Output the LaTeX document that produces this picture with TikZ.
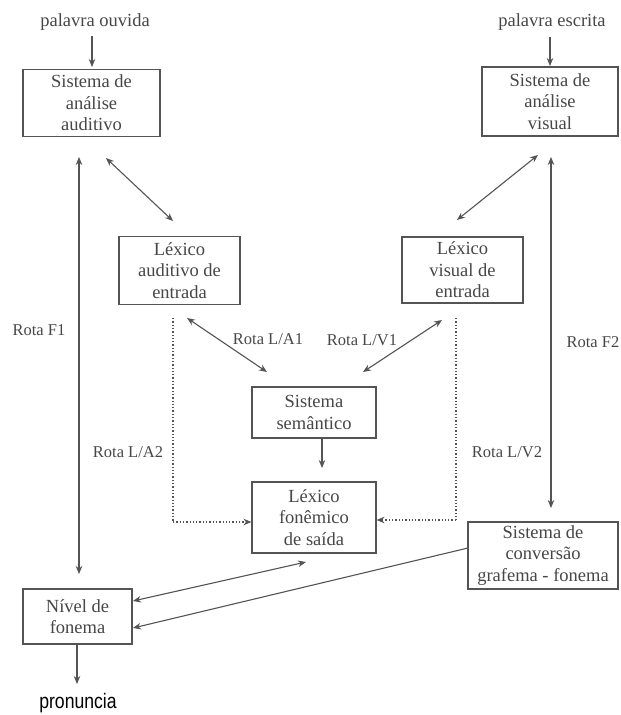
\documentclass[tikz,border=0pt]{standalone}
\usepackage{fontspec}
\setmainfont{Liberation Serif}
\newfontfamily\pronfont{Liberation Sans}
\usetikzlibrary{arrows.meta}
\definecolor{ink}{gray}{0.33}
\definecolor{txt}{gray}{0.28}
\begin{document}
\begin{tikzpicture}[x=1pt,y=-1pt,
  box/.style={draw=ink,line width=1.1pt,inner sep=0pt,align=center,text=txt,
    font=\fontsize{18.5}{21.5}\selectfont},
  lbl/.style={text=txt,inner sep=0pt,font=\fontsize{18.5}{21.5}\selectfont},
  rota/.style={text=txt,inner sep=0pt,font=\fontsize{16.5}{19}\selectfont},
  tip/.style={-{Stealth[length=8pt,width=6.5pt]}},
  dtip/.style={{Stealth[length=8pt,width=6.5pt]}-{Stealth[length=8pt,width=6.5pt]}},
  conn/.style={draw=ink,line width=1.1pt},
  dots/.style={draw=ink,line width=1.3pt,dotted}]
\useasboundingbox (0,0) rectangle (621,715);
\fill[white] (0,0) rectangle (621,715);

% boxes
\node[box,minimum width=137,minimum height=67] (saa) at (91.5,103) {Sistema de\\análise\\auditivo};
\node[box,minimum width=136,minimum height=69] (sav) at (550,101.5) {Sistema de\\análise\\visual};
\node[box,minimum width=121,minimum height=68] (lae) at (179.5,270.5) {Léxico\\auditivo de\\entrada};
\node[box,minimum width=121,minimum height=66] (lve) at (462.5,270) {Léxico\\visual de\\entrada};
\node[box,minimum width=124,minimum height=51] (sem) at (314,412.5) {Sistema\\semântico};
\node[box,minimum width=124,minimum height=71] (lfs) at (314,517.5) {Léxico\\fonêmico\\de saída};
\node[box,minimum width=150,minimum height=67] (scgf) at (543,555.5) {Sistema de\\conversão\\grafema - fonema};
\node[box,minimum width=109,minimum height=55] (nf) at (77.5,616.5) {Nível de\\fonema};

% labels
\node[lbl] (ouv) at (95,22) {palavra ouvida};
\node[lbl] (esc) at (552,22) {palavra escrita};
\node[rota] (f1) at (39,330) {Rota F1};
\node[rota] (f2) at (593,342) {Rota F2};
\node[rota] (la1) at (268,339) {Rota L/A1};
\node[rota] (lv1) at (362,340) {Rota L/V1};
\node[rota] (la2) at (128,452) {Rota L/A2};
\node[rota] (lv2) at (507,452) {Rota L/V2};
\node[inner sep=0pt,text=black,font=\pronfont\fontsize{21}{24}\selectfont] (pron) at (78,703) {\scalebox{0.84}[1]{pronuncia}};

% coordinates for free ends
\coordinate (ouvA) at (92,36);   \coordinate (ouvB) at (92,67);
\coordinate (escA) at (550,37);  \coordinate (escB) at (550,66);
\coordinate (f1t) at (79,157);   \coordinate (f1b) at (79,574);
\coordinate (f2t) at (551,157);  \coordinate (f2b) at (551,508);
\coordinate (a1) at (106,158);   \coordinate (a2) at (173,221);
\coordinate (v1) at (538,155);   \coordinate (v2) at (457,220);
\coordinate (la1a) at (187,318); \coordinate (la1b) at (267,372);
\coordinate (lv1a) at (442,320); \coordinate (lv1b) at (363,372);
\coordinate (semA) at (322,439); \coordinate (semB) at (322,468);
\coordinate (la2t) at (173,318); \coordinate (la2c) at (173,522);
\coordinate (lv2t) at (456,318); \coordinate (lv2c) at (456,520);
\coordinate (nfA) at (133,601);  \coordinate (lfsA) at (306,562);
\coordinate (nfB) at (133,628);  \coordinate (scA) at (468,548);
\coordinate (pA) at (77,645);    \coordinate (pB) at (77,684);

% connectors
\draw[conn,tip] (ouvA) -- (ouvB);
\draw[conn,tip] (escA) -- (escB);
\draw[conn,dtip] (f1t) -- (f1b);
\draw[conn,dtip] (f2t) -- (f2b);
\draw[conn,dtip] (a1) -- (a2);
\draw[conn,dtip] (v1) -- (v2);
\draw[conn,dtip] (la1a) -- (la1b);
\draw[conn,dtip] (lv1a) -- (lv1b);
\draw[conn,tip] (semA) -- (semB);
\draw[dots] (la2t) -- (la2c);
\draw[dots,tip] (la2c) -- (la2c -| lfs.west);
\draw[dots] (lv2t) -- (lv2c);
\draw[dots,tip] (lv2c) -- (lv2c -| lfs.east);
\draw[conn,dtip] (nfA) -- (lfsA);
\draw[conn,tip] (scA) -- (nfB);
\draw[conn,tip] (pA) -- (pB);
\end{tikzpicture}
\end{document}
